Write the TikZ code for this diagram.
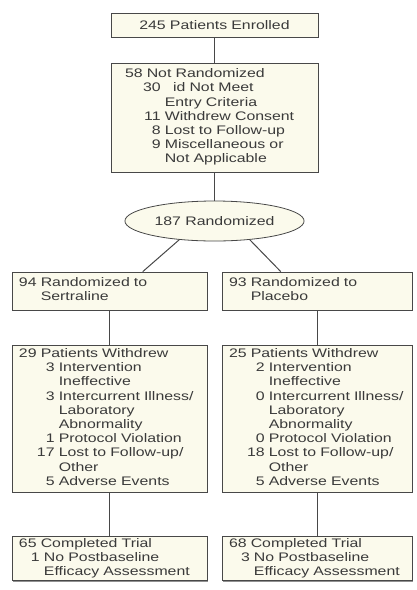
\documentclass[tikz,border=0pt]{standalone}
\usepackage{fontspec}
\setmainfont[FakeStretch=1.28]{Liberation Sans}
\usetikzlibrary{shapes.geometric,shadows,calc}
\definecolor{cream}{RGB}{251,250,236}
\definecolor{edge}{RGB}{72,72,72}
\definecolor{ink}{RGB}{58,58,58}
\tikzset{
  every node/.style={font=\fontsize{12.4}{14.2}\selectfont, text=ink},
  stage/.style={draw=edge, fill=cream, line width=0.8pt, inner xsep=7pt, inner ysep=1pt, align=left,
    drop shadow={shadow xshift=1pt, shadow yshift=-1pt, fill=edge, opacity=0.6}},
  link/.style={draw=edge, line width=1pt}
}

\begin{document}
\begin{tikzpicture}[x=1pt,y=-1pt]
\useasboundingbox (0,0) rectangle (416,590);

\node (enrolled) [stage, text width=193pt, align=center, minimum height=24pt] at (214.5,25) {245 Patients Enrolled};
\node (notrand) [stage, text width=193pt, minimum height=109pt] at (214.5,117.5) {\begin{tabular}{@{\hspace{25pt}}r@{\ }l@{}}
\multicolumn{2}{@{\hspace{7pt}}l@{}}{58 Not Randomized}\\
30 & \ \ id Not Meet\\
 & Entry Criteria\\
11 & Withdrew Consent\\
8 & Lost to Follow-up\\
9 & Miscellaneous or\\
 & Not Applicable
\end{tabular}};
\node (rand) [draw=edge, fill=cream, line width=0.8pt, ellipse, minimum width=150pt, minimum height=40pt] at (214.5,221) {187 Randomized};

\node (sertraline) [stage, text width=181pt, minimum height=38pt] at (109.5,291) {\begin{tabular}{@{}r@{\ }l@{}}
94 & Randomized to\\
 & Sertraline
\end{tabular}};
\node (placebo) [stage, text width=176pt, minimum height=38pt] at (317,291) {\begin{tabular}{@{}r@{\ }l@{}}
93 & Randomized to\\
 & Placebo
\end{tabular}};

\node (withdrewS) [stage, text width=181pt, minimum height=147pt] at (109.5,418.5) {\begin{tabular}{@{\hspace{18pt}}r@{\ }l@{}}
\multicolumn{2}{@{}l@{}}{29 Patients Withdrew}\\
3 & Intervention\\
 & Ineffective\\
3 & Intercurrent Illness/\\
 & Laboratory\\
 & Abnormality\\
1 & Protocol Violation\\
17 & Lost to Follow-up/\\
 & Other\\
5 & Adverse Events
\end{tabular}};
\node (withdrewP) [stage, text width=176pt, minimum height=147pt] at (317,418.5) {\begin{tabular}{@{\hspace{18pt}}r@{\ }l@{}}
\multicolumn{2}{@{}l@{}}{25 Patients Withdrew}\\
2 & Intervention\\
 & Ineffective\\
0 & Intercurrent Illness/\\
 & Laboratory\\
 & Abnormality\\
0 & Protocol Violation\\
18 & Lost to Follow-up/\\
 & Other\\
5 & Adverse Events
\end{tabular}};

\node (completedS) [stage, text width=181pt, minimum height=43pt] at (109.5,558.5) {\begin{tabular}{@{\hspace{12pt}}r@{\ }l@{}}
\multicolumn{2}{@{}l@{}}{65 Completed Trial}\\
1 & No Postbaseline\\
 & Efficacy Assessment
\end{tabular}};
\node (completedP) [stage, text width=176pt, minimum height=43pt] at (317,558.5) {\begin{tabular}{@{\hspace{12pt}}r@{\ }l@{}}
\multicolumn{2}{@{}l@{}}{68 Completed Trial}\\
3 & No Postbaseline\\
 & Efficacy Assessment
\end{tabular}};

\draw[link] (enrolled.south) -- (notrand.north);
\draw[link] (notrand.south) -- (rand.north);
\draw[link] (rand.208) -- ($(sertraline.north west)!0.67!(sertraline.north east)$);
\draw[link] (rand.332) -- ($(placebo.north west)!0.31!(placebo.north east)$);
\draw[link] (sertraline.south) -- (withdrewS.north);
\draw[link] (placebo.south) -- (withdrewP.north);
\draw[link] (withdrewS.south) -- (completedS.north);
\draw[link] (withdrewP.south) -- (completedP.north);

\end{tikzpicture}
\end{document}
